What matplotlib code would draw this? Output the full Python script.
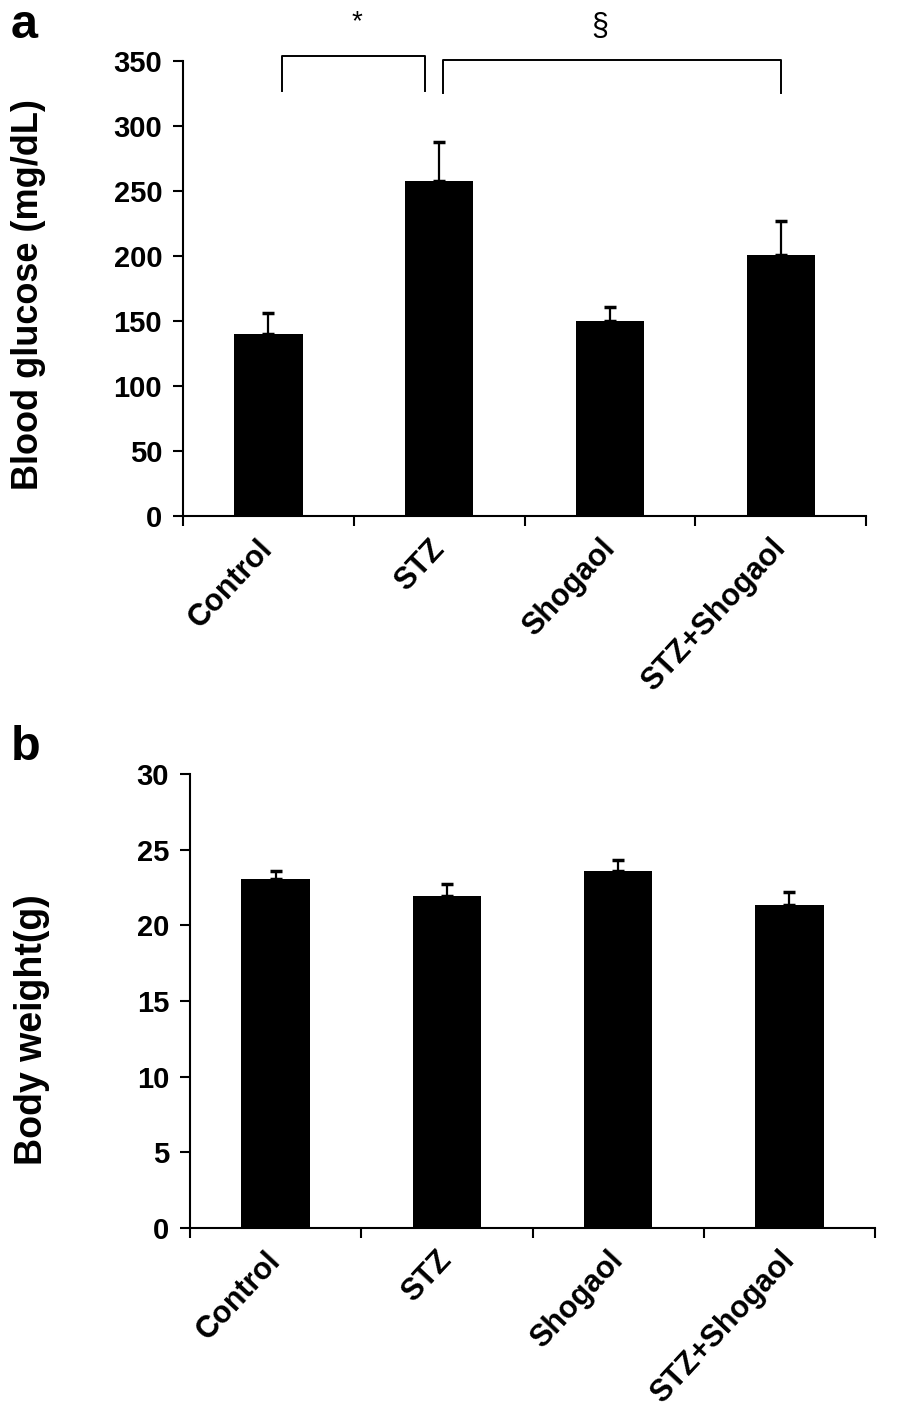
import matplotlib.pyplot as plt
import numpy as np

plt.rcParams["font.family"] = ["Liberation Sans", "DejaVu Sans"]

groups = ["Control", "STZ", "Shogaol", "STZ+Shogaol"]
glucose = [140, 258, 150, 201]
glucose_err = [16, 30, 11, 26]
weight = [23.07, 21.97, 23.56, 21.37]
weight_err = [0.55, 0.77, 0.77, 0.86]


def bar_panel(ax, values, errors, ylim, ystep, ylabel, label_xy, label_size):
    x = np.arange(len(groups))
    ax.bar(x, values, width=0.4, color="black", zorder=2)
    ax.errorbar(x, values, yerr=[np.zeros(len(errors)), errors], fmt="none",
                ecolor="black", elinewidth=1.6, capsize=4.5, capthick=2.5, zorder=1)
    ax.set_xlim(-0.5, len(groups) - 0.5)
    ax.set_ylim(0, ylim)
    ax.set_yticks(np.arange(0, ylim + ystep / 2, ystep))
    # boundaries get tick marks, group names sit on minor ticks
    ax.set_xticks(np.arange(-0.5, len(groups), 1.0))
    ax.set_xticklabels([])
    ax.set_xticks(x, minor=True)
    ax.set_xticklabels(groups, minor=True, rotation=47, ha="right", va="center",
                       rotation_mode="anchor", fontsize=22, fontweight="bold")
    ax.tick_params(axis="x", which="minor", length=0, pad=20)
    ax.tick_params(axis="x", which="major", direction="out", length=7, width=1.5)
    ax.tick_params(axis="y", direction="out", length=7, width=1.5, labelsize=21, pad=8)
    for lab in ax.get_yticklabels():
        lab.set_fontweight("bold")
    for side in ["top", "right"]:
        ax.spines[side].set_visible(False)
    for side in ["left", "bottom"]:
        ax.spines[side].set_linewidth(1.5)
    ax.set_ylabel(ylabel, fontsize=label_size, fontweight="bold")
    ax.yaxis.set_label_coords(*label_xy)


fig = plt.figure(figsize=(8.98, 14.15), dpi=100)

ax1 = fig.add_axes([0.2038, 0.6353, 0.7606, 0.3216])
bar_panel(ax1, glucose, glucose_err, 350, 50, "Blood glucose (mg/dL)", (-0.2, 0.486), 26)

# significance brackets
ax1.plot([0.08, 0.08, 0.92, 0.92], [327, 354, 354, 327], color="black", lw=1.4, clip_on=False)
ax1.plot([1.02, 1.02, 3.0, 3.0], [325, 351, 351, 325], color="black", lw=1.4, clip_on=False)
ax1.text(0.52, 380, "*", ha="center", va="center", fontsize=20)
ax1.text(1.94, 376, "§", ha="center", va="center", fontsize=22)

ax2 = fig.add_axes([0.2116, 0.1322, 0.7628, 0.3208])
bar_panel(ax2, weight, weight_err, 30, 5, "Body weight(g)", (-0.205, 0.436), 27)

fig.text(0.012, 0.982, "a", fontsize=35, fontweight="bold", ha="left", va="center")
fig.text(0.012, 0.472, "b", fontsize=35, fontweight="bold", ha="left", va="center")

fig.savefig("out.png", dpi=100)
